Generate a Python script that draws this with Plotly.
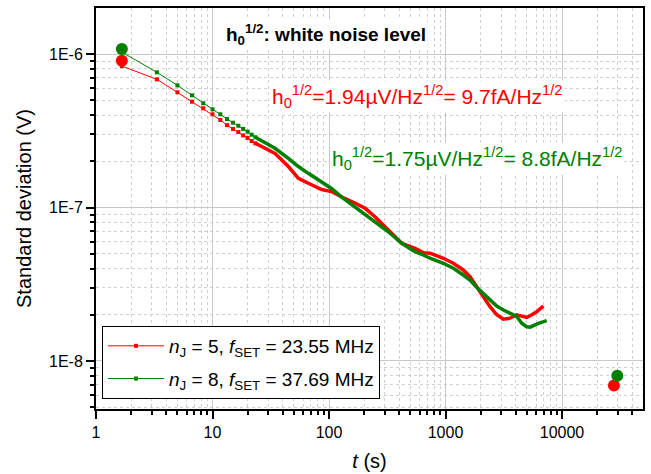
import plotly.graph_objects as go

# ---- data ----
t_early = [1.667, 3.333, 5.0, 6.667, 8.333, 10.0, 11.67, 13.33, 15.0, 16.67, 18.33, 20.0, 21.67, 23.33]
red_early = [8.35e-7, 6.84e-7, 5.63e-7, 4.89e-7, 4.43e-7, 4.05e-7, 3.72e-7, 3.44e-7,
             3.25e-7, 3.10e-7, 2.95e-7, 2.84e-7, 2.71e-7, 2.62e-7]
green_early = [1.03e-6, 7.60e-7, 6.25e-7, 5.38e-7, 4.78e-7, 4.36e-7, 4.05e-7, 3.77e-7,
               3.57e-7, 3.41e-7, 3.25e-7, 3.12e-7, 2.98e-7, 2.87e-7]

t_red_late = [23.33, 34.4, 44.8, 54.6, 66.4, 86.5, 105, 128.6, 167, 204, 248, 323, 421, 547,
              645, 736, 957, 1167, 1420, 1622, 1853, 2113, 2410, 2752, 3140, 3580, 4080,
              4510, 4980, 5500, 6060, 6920]
red_late = [2.62e-7, 2.25e-7, 1.85e-7, 1.55e-7, 1.44e-7, 1.31e-7, 1.27e-7, 1.17e-7, 1.07e-7,
            9.88e-8, 8.71e-8, 7.13e-8, 5.84e-8, 5.42e-8, 5.08e-8, 5.04e-8, 4.67e-8, 4.33e-8,
            3.92e-8, 3.54e-8, 3.02e-8, 2.62e-8, 2.26e-8, 2.00e-8, 1.87e-8, 1.90e-8, 2.00e-8,
            1.96e-8, 1.92e-8, 2.00e-8, 2.09e-8, 2.28e-8]

t_green_late = [23.33, 34.4, 44.8, 54.6, 66.4, 86.5, 105, 128.6, 167, 204, 248, 323, 421, 547,
                645, 736, 957, 1167, 1420, 1622, 1853, 2113, 2410, 2752, 3140, 3580, 4080,
                4510, 4980, 5310, 6270, 7390]
green_late = [2.87e-7, 2.43e-7, 2.09e-7, 1.85e-7, 1.67e-7, 1.47e-7, 1.33e-7, 1.17e-7, 1.01e-7,
              8.93e-8, 8.07e-8, 6.95e-8, 5.84e-8, 5.15e-8, 4.91e-8, 4.67e-8, 4.33e-8, 4.02e-8,
              3.63e-8, 3.37e-8, 3.02e-8, 2.76e-8, 2.49e-8, 2.28e-8, 2.15e-8, 2.05e-8, 1.95e-8,
              1.76e-8, 1.67e-8, 1.66e-8, 1.76e-8, 1.83e-8]

t_red_big = [1.667, 27900]
red_big = [9.05e-7, 6.93e-9]
t_green_big = [1.667, 29800]
green_big = [1.08e-6, 8.02e-9]

x_tickvals = [1, 10, 100, 1000, 10000]
x_ticktext = ["1", "10", "100", "1000", "10000"]
y_tickvals = [1e-8, 1e-7, 1e-6]
y_ticktext = ["1E-8", "1E-7", "1E-6"]
x_decades = [1, 10, 100, 1000, 10000]
y_decades = [1e-9, 1e-8, 1e-7, 1e-6]
minor_digits = [2, 3, 4, 5, 6, 7, 8, 9]

x_minor = [d * k for d in x_decades for k in minor_digits]
y_minor = [d * k for d in y_decades for k in minor_digits]

RED = "#ff0000"
GREEN = "#008000"
FONT = "Liberation Sans, Arial, sans-serif"

fig = go.Figure()

fig.add_trace(go.Scatter(x=t_red_late, y=red_late, mode="lines",
                         line=dict(color=RED, width=3.5), showlegend=False, hoverinfo="skip"))
fig.add_trace(go.Scatter(x=t_green_late, y=green_late, mode="lines",
                         line=dict(color=GREEN, width=3.5), showlegend=False, hoverinfo="skip"))
fig.add_trace(go.Scatter(x=t_early, y=red_early, mode="lines+markers", legendgroup="a",
                         line=dict(color=RED, width=1), marker=dict(size=4, color=RED, symbol="square"),
                         name="<i>n</i><sub>J</sub> = 5, <i>f</i><sub>SET</sub> = 23.55 MHz"))
fig.add_trace(go.Scatter(x=t_early, y=green_early, mode="lines+markers", legendgroup="b",
                         line=dict(color=GREEN, width=1), marker=dict(size=4, color=GREEN, symbol="square"),
                         name="<i>n</i><sub>J</sub> = 8, <i>f</i><sub>SET</sub> = 37.69 MHz"))
fig.add_trace(go.Scatter(x=t_red_big, y=red_big, mode="markers",
                         marker=dict(size=12, color=RED), showlegend=False))
fig.add_trace(go.Scatter(x=t_green_big, y=green_big, mode="markers",
                         marker=dict(size=12, color=GREEN), showlegend=False))

grid_major = "#c8c8c8"
grid_minor = "#d0d0d0"

fig.update_xaxes(type="log", range=[0, 4.695], tickmode="array", tickvals=x_tickvals, ticktext=x_ticktext,
                 ticks="outside", ticklen=8, tickwidth=1.5, tickcolor="black",
                 showline=True, linecolor="black", linewidth=2, mirror=True,
                 showgrid=True, gridcolor=grid_major, gridwidth=1,
                 minor=dict(tickmode="array", tickvals=x_minor, ticks="outside", ticklen=4,
                            tickcolor="black", showgrid=True,
                            gridcolor=grid_minor, griddash="dot", gridwidth=1),
                 tickfont=dict(family=FONT, size=16, color="black"),
                 title=dict(text="<i>t</i> (s)", font=dict(family=FONT, size=20, color="black"), standoff=14),
                 automargin=False, zeroline=False)
fig.update_yaxes(type="log", range=[-8.313, -5.70], tickmode="array", tickvals=y_tickvals, ticktext=y_ticktext,
                 ticks="outside", ticklen=8, tickwidth=1.5, tickcolor="black",
                 showline=True, linecolor="black", linewidth=2, mirror=True,
                 showgrid=True, gridcolor=grid_major, gridwidth=1,
                 minor=dict(tickmode="array", tickvals=y_minor, ticks="outside", ticklen=4,
                            tickcolor="black", showgrid=True,
                            gridcolor=grid_minor, griddash="dot", gridwidth=1),
                 tickfont=dict(family=FONT, size=16, color="black"),
                 title=dict(text="Standard deviation (V)", font=dict(family=FONT, size=20, color="black"), standoff=12),
                 automargin=False, zeroline=False)

fig.add_annotation(xref="paper", yref="paper", x=0.42, y=0.935, xanchor="center", yanchor="middle",
                   text="<b>h<sub>0</sub><sup>1/2</sup>: white noise level</b>", showarrow=False,
                   bgcolor="white", font=dict(family=FONT, size=19, color="black"))
fig.add_annotation(xref="paper", yref="paper", x=0.588, y=0.78, xanchor="center", yanchor="middle",
                   text="h<sub>0</sub><sup>1/2</sup>=1.94µV/Hz<sup>1/2</sup>= 9.7fA/Hz<sup>1/2</sup>",
                   showarrow=False, bgcolor="white", font=dict(family=FONT, size=21, color=RED))
fig.add_annotation(xref="paper", yref="paper", x=0.698, y=0.625, xanchor="center", yanchor="middle",
                   text="h<sub>0</sub><sup>1/2</sup>=1.75µV/Hz<sup>1/2</sup>= 8.8fA/Hz<sup>1/2</sup>",
                   showarrow=False, bgcolor="white", font=dict(family=FONT, size=21, color=GREEN))

fig.update_layout(width=651, height=474, margin=dict(l=96, r=8, t=8, b=65),
                  plot_bgcolor="white", paper_bgcolor="white",
                  legend=dict(x=0.011, y=0.025, xanchor="left", yanchor="bottom",
                              bgcolor="white", bordercolor="black", borderwidth=1,
                              font=dict(family=FONT, size=19, color="black"),
                              itemwidth=56, traceorder="grouped", tracegroupgap=5),
                  font=dict(family=FONT))

fig.write_html("out.html", config={"displayModeBar": False},
               post_script="document.body.style.margin='0';document.body.style.padding='0';")
